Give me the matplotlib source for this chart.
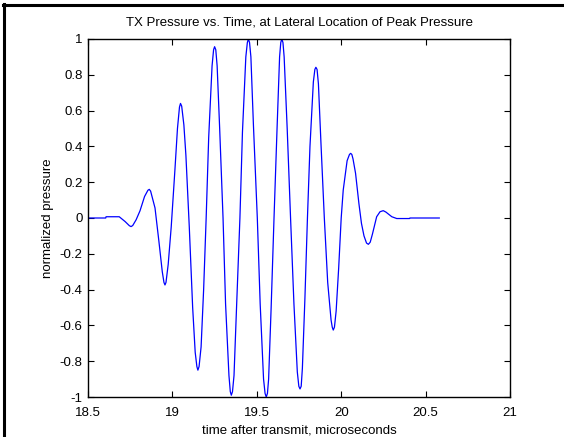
import matplotlib
matplotlib.use('Agg')
import matplotlib.pyplot as plt
from matplotlib.lines import Line2D
import numpy as np

# waveform (time in microseconds, normalized pressure)
time_us = [18.50, 18.605, 18.607, 18.685, 18.72, 18.745, 18.755, 18.765, 18.785, 18.808,
           18.835, 18.855, 18.863, 18.871, 18.897, 18.92, 18.94, 18.95, 18.956, 18.962,
           18.975, 18.993, 19.015, 19.03, 19.042, 19.048, 19.055, 19.068, 19.08, 19.10,
           19.12, 19.135, 19.145, 19.151, 19.158, 19.17, 19.185, 19.20, 19.215, 19.235,
           19.244, 19.25, 19.257, 19.265, 19.28, 19.30, 19.315, 19.335, 19.343, 19.349,
           19.356, 19.365, 19.38, 19.40, 19.415, 19.435, 19.444, 19.45, 19.457, 19.465,
           19.48, 19.503, 19.52, 19.54, 19.549, 19.556, 19.563, 19.57, 19.585, 19.602,
           19.62, 19.635, 19.642, 19.648, 19.655, 19.662, 19.68, 19.70, 19.72, 19.74,
           19.749, 19.756, 19.763, 19.77, 19.785, 19.80, 19.815, 19.835, 19.844, 19.85,
           19.857, 19.865, 19.88, 19.90, 19.92, 19.94, 19.947, 19.953, 19.96, 19.97,
           19.985, 20.0, 20.012, 20.035, 20.049, 20.056, 20.063, 20.07, 20.085, 20.105,
           20.12, 20.135, 20.15, 20.161, 20.172, 20.185, 20.21, 20.23, 20.249, 20.265,
           20.285, 20.30, 20.329, 20.405, 20.407, 20.581]
pressure = [0.0, 0.0, 0.007, 0.007, -0.02, -0.043, -0.048, -0.042, -0.01, 0.04,
            0.12, 0.155, 0.16, 0.15, 0.056, -0.13, -0.30, -0.36, -0.374, -0.36,
            -0.26, -0.05, 0.27, 0.50, 0.62, 0.64, 0.625, 0.52, 0.35, -0.05,
            -0.50, -0.75, -0.83, -0.85, -0.83, -0.72, -0.40, 0.0, 0.45, 0.85,
            0.94, 0.957, 0.94, 0.85, 0.50, 0.0, -0.48, -0.88, -0.97, -0.99,
            -0.97, -0.88, -0.50, 0.0, 0.48, 0.90, 0.98, 1.0, 0.98, 0.90,
            0.52, 0.0, -0.48, -0.90, -0.98, -1.0, -0.98, -0.90, -0.50, 0.0,
            0.50, 0.90, 0.98, 1.0, 0.98, 0.90, 0.50, 0.0, -0.48, -0.86,
            -0.94, -0.955, -0.94, -0.84, -0.45, 0.0, 0.40, 0.76, 0.83, 0.842,
            0.83, 0.75, 0.42, 0.0, -0.36, -0.57, -0.61, -0.626, -0.61, -0.52,
            -0.28, 0.0, 0.156, 0.32, 0.355, 0.361, 0.355, 0.33, 0.25, 0.08,
            -0.03, -0.10, -0.14, -0.147, -0.135, -0.09, 0.007, 0.035, 0.041, 0.033,
            0.018, 0.007, -0.003, -0.003, 0.0, 0.0]

xticks = [18.5, 19, 19.5, 20, 20.5, 21]
xticklabels = ['18.5', '19', '19.5', '20', '20.5', '21']
yticks = [-1, -0.8, -0.6, -0.4, -0.2, 0, 0.2, 0.4, 0.6, 0.8, 1]
yticklabels = ['-1', '-0.8', '-0.6', '-0.4', '-0.2', '0', '0.2', '0.4', '0.6', '0.8', '1']

plt.rcParams['font.family'] = ['Liberation Sans', 'DejaVu Sans']

W, H = 564, 437
fig = plt.figure(figsize=(W / 100, H / 100), dpi=100)
# axes box in pixels: left 88, right 510, top 39, bottom 397
ax = fig.add_axes([88 / W, 1 - 397 / H, (510 - 88) / W, (397 - 39) / H])

ax.plot(time_us, pressure, color='#0000ff', lw=0.9)
ax.set_xlim(18.5, 21)
ax.set_ylim(-1, 1)
ax.set_xticks(xticks)
ax.set_xticklabels(xticklabels)
ax.set_yticks(yticks)
ax.set_yticklabels(yticklabels)
ax.tick_params(direction='in', length=4, width=0.8, top=True, right=True,
               labelsize=9.5, colors='black')
ax.tick_params(axis='x', pad=7)
ax.tick_params(axis='y', pad=4)
for s in ax.spines.values():
    s.set_linewidth(1.0)

ax.set_title('TX Pressure vs. Time, at Lateral Location of Peak Pressure',
             fontsize=9.5, pad=10)
ax.set_xlabel('time after transmit, microseconds', fontsize=9.5, labelpad=4)
ax.set_ylabel('normalized pressure', fontsize=9.5, labelpad=4)

# black frame along top and left edges, as in the screenshot
fig.add_artist(Line2D([3 / W, 1], [1 - 5 / H, 1 - 5 / H], transform=fig.transFigure,
                      color='black', lw=2.2))
fig.add_artist(Line2D([4 / W, 4 / W], [0, 1 - 4 / H], transform=fig.transFigure,
                      color='black', lw=2.2))

fig.savefig('out.png', dpi=100)
